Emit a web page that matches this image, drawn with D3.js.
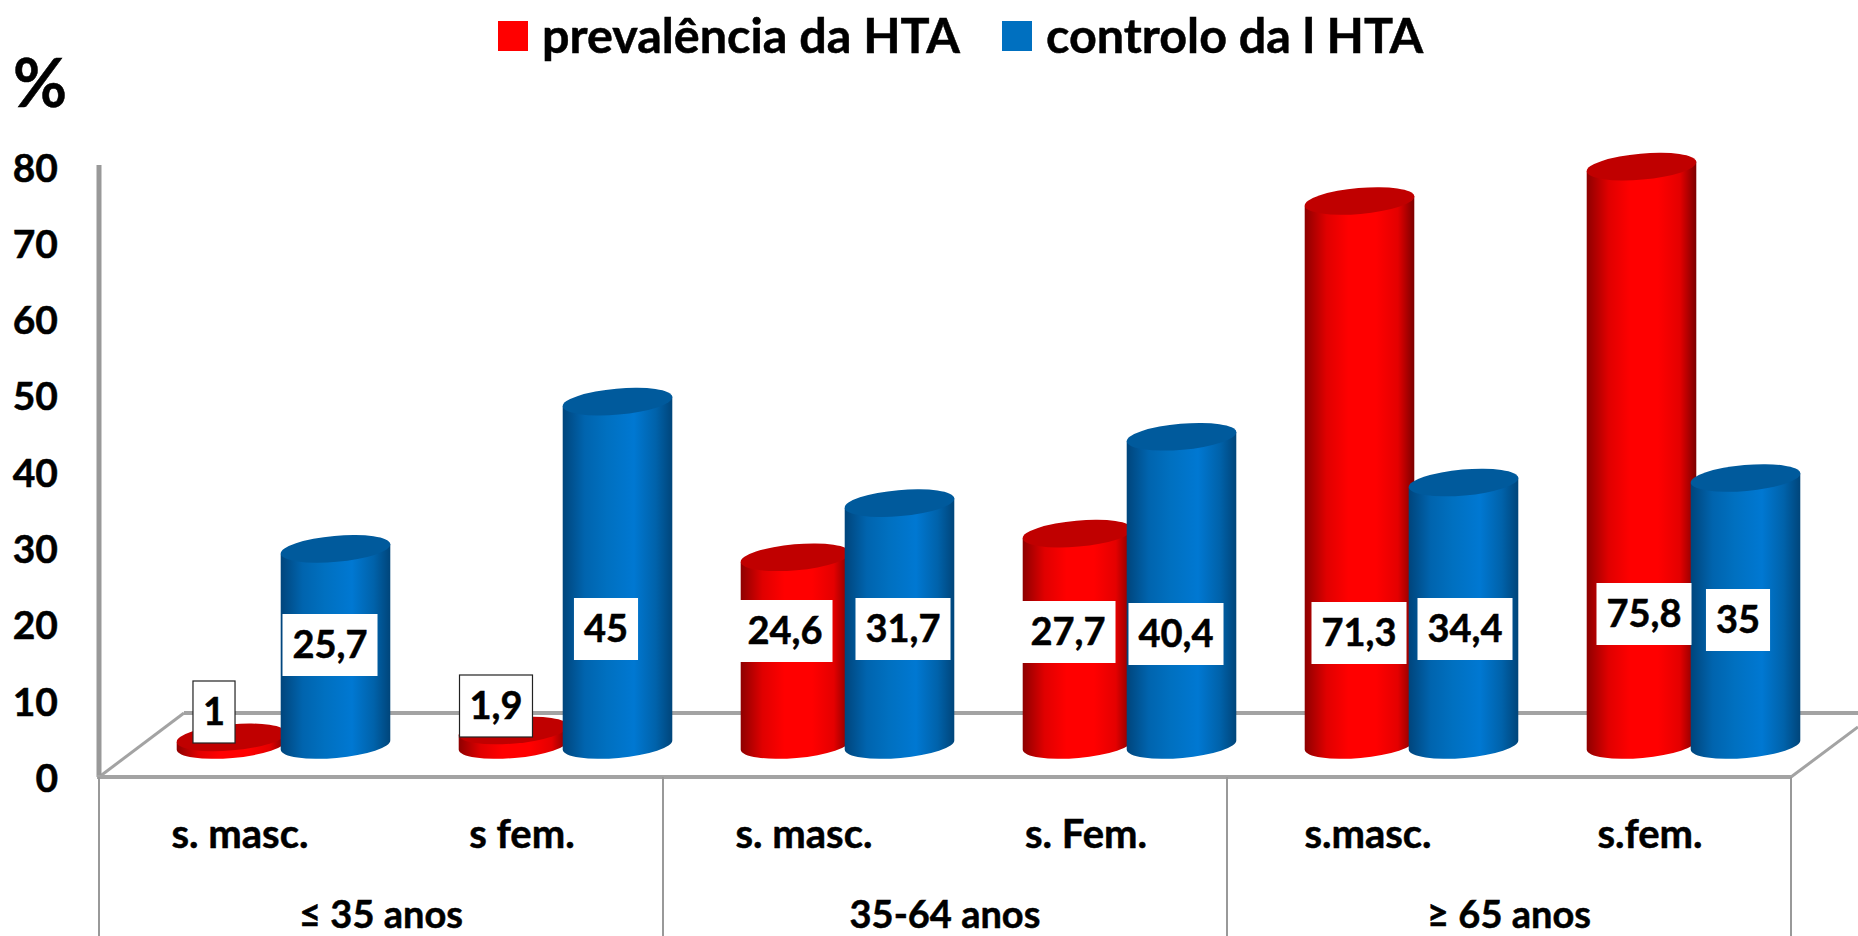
<!DOCTYPE html>
<html>
<head>
<meta charset="utf-8">
<script src="https://cdn.jsdelivr.net/npm/d3@7"></script>
<style>
html,body{margin:0;padding:0;background:#fff;overflow:hidden}
text{font-family:Lato,"Open Sans",sans-serif;font-weight:700;fill:#000;stroke:#000;stroke-width:0.5px}
</style>
</head>
<body>
<div id="chart"></div>
<script>
// chart values
var series = ["prevalência da HTA", "controlo da l HTA"];
var categories = ["s. masc.", "s fem.", "s. masc. ", "s. Fem.", "s.masc.", "s.fem."];
var groups = ["≤ 35 anos", "35-64 anos", "≥ 65 anos"];
var prevalencia = [1, 1.9, 24.6, 27.7, 71.3, 75.8];
var controlo = [25.7, 45, 31.7, 40.4, 34.4, 35];
var yTicks = [0, 10, 20, 30, 40, 50, 60, 70, 80];

// where the value boxes sit, they were moved by hand in the original
var labelCenters = {
  "prevalência da HTA": [[214, 712], [496, 706], [785, 631], [1068, 632], [1359, 633], [1644, 614]],
  "controlo da l HTA": [[330, 645], [606, 629], [903, 629], [1176, 634], [1465, 629], [1738, 620]]
};
var labelBoxH = 62;

var w = 1858, h = 936;
var left = 99, right = 1791;
var floorFront = 777, floorBack = 713;
var depth = 85;      // floor shift in x
var baseY = 745;     // centre of the cylinder bases
var perUnit = 7.63;
var rx = 55, ry = 13, tilt = -5;

var svg = d3.select("#chart").append("svg")
  .attr("width", w).attr("height", h)
  .style("display", "block");

var x0 = d3.scaleBand().domain(d3.range(categories.length)).range([left, right]);
var xGroup = d3.scaleBand().domain(groups).range([left, right]);
var x1 = d3.scaleBand().domain(series).range([-103, 105]);
var yAxisScale = d3.scaleLinear().domain([0, 80]).range([floorFront + 2, floorFront + 2 - 80 * perUnit]);
var yBar = d3.scaleLinear().domain([0, 80]).range([baseY, baseY - 80 * perUnit]);

var colors = {
  "prevalência da HTA": {cap: "#c00000", stops: ["#8e0000", "#e00000", "#ff0000", "#ff0000", "#e40000", "#7c0000"]},
  "controlo da l HTA": {cap: "#005a9c", stops: ["#00457c", "#0064ae", "#0070c0", "#0078d2", "#0062aa", "#00457a"]}
};

var defs = svg.append("defs");
series.forEach(function(s, i) {
  var g = defs.append("linearGradient").attr("id", "grad" + i);
  var offs = [0, 0.2, 0.4, 0.65, 0.85, 1];
  colors[s].stops.forEach(function(c, j) {
    g.append("stop").attr("offset", offs[j]).attr("stop-color", c);
  });
});

// walls and floor
var gray = "#a3a3a3";
function wall(x1_, y1_, x2_, y2_, sw, col) {
  svg.append("line").attr("x1", x1_).attr("y1", y1_).attr("x2", x2_).attr("y2", y2_)
    .attr("stroke", col || gray).attr("stroke-width", sw);
}
wall(left + depth, floorBack, w, floorBack, 4);
wall(left, floorFront, left + depth, floorBack, 3);
wall(right, floorFront, w, floorFront - 50, 3);
wall(left, 165, left, floorFront, 5, "#999");
wall(left - 2, floorFront, right, floorFront, 4);
[left, left + 2 * x0.step(), left + 4 * x0.step(), right].forEach(function(x) {
  wall(x, floorFront, x, h, 2, "#999");
});

// cylinders
var tiltRad = tilt * Math.PI / 180;
var dx = rx * Math.cos(tiltRad), dy = rx * Math.sin(tiltRad);
var rows = [];
categories.forEach(function(c, i) {
  rows.push({s: series[0], i: i, v: prevalencia[i]});
  rows.push({s: series[1], i: i, v: controlo[i]});
});
function barX(d) {
  return x0(d.i) + x0.bandwidth() / 2 + depth / 2 + x1(d.s) + x1.bandwidth() / 2;
}
var bars = svg.selectAll("g.bar").data(rows).enter().append("g").attr("class", "bar");
bars.append("path")
  .attr("d", function(d) {
    var cx = barX(d), top = yBar(d.v);
    return "M" + (cx - dx) + "," + (top - dy) +
      "L" + (cx - dx) + "," + (baseY - dy) +
      "A" + rx + "," + ry + " " + tilt + " 0 0 " + (cx + dx) + "," + (baseY + dy) +
      "L" + (cx + dx) + "," + (top + dy) + "Z";
  })
  .attr("fill", function(d) { return "url(#grad" + series.indexOf(d.s) + ")"; });
bars.append("ellipse")
  .attr("rx", rx).attr("ry", ry)
  .attr("transform", function(d) {
    return "translate(" + barX(d) + "," + yBar(d.v) + ") rotate(" + tilt + ")";
  })
  .attr("fill", function(d) { return colors[d.s].cap; });

// value boxes
var labels = svg.selectAll("g.lab").data(rows).enter().append("g").attr("class", "lab")
  .attr("transform", function(d) {
    var p = labelCenters[d.s][d.i];
    return "translate(" + p[0] + "," + p[1] + ")";
  });
labels.append("text")
  .attr("text-anchor", "middle").attr("dy", "0.35em")
  .style("font-size", "38px")
  .text(function(d) { return String(d.v).replace(".", ","); });
labels.insert("rect", "text")
  .each(function(d) {
    var t = d3.select(this.parentNode).select("text").node().getBBox();
    var bw = t.width + 20;
    d3.select(this)
      .attr("x", -bw / 2).attr("y", -labelBoxH / 2)
      .attr("width", bw).attr("height", labelBoxH)
      .attr("fill", "#fff")
      .attr("stroke", d.v < 2 ? "#222" : "none")
      .attr("stroke-width", 1.2);
  });

// y axis labels
var yAxis = svg.append("g").attr("transform", "translate(58,0)")
  .call(d3.axisLeft(yAxisScale).tickValues(yTicks).tickSize(0).tickPadding(0));
yAxis.select(".domain").remove();
yAxis.selectAll("text").style("font-size", "39px").attr("text-anchor", "end");
svg.append("text").attr("x", 40).attr("y", 84).attr("text-anchor", "middle").attr("dy", "0.35em")
  .style("font-size", "66px").text("%");

// category labels
svg.selectAll("text.cat").data(categories).enter().append("text").attr("class", "cat")
  .attr("x", function(d, i) { return x0(i) + x0.bandwidth() / 2; })
  .attr("y", 834).attr("dy", "0.35em").attr("text-anchor", "middle")
  .style("font-size", "40px")
  .text(function(d) { return d.trim(); });
svg.selectAll("text.grp").data(groups).enter().append("text").attr("class", "grp")
  .attr("x", function(d) { return xGroup(d) + xGroup.bandwidth() / 2; })
  .attr("y", 915).attr("dy", "0.35em").attr("text-anchor", "middle")
  .style("font-size", "38px")
  .text(function(d) { return d; });

// legend
var legendX = [498, 1002];
series.forEach(function(s, i) {
  svg.append("rect").attr("x", legendX[i]).attr("y", 21).attr("width", 30).attr("height", 30)
    .attr("fill", i == 0 ? "#ff0000" : "#0070c0");
  svg.append("text").attr("x", legendX[i] + 44).attr("y", 36).attr("dy", "0.35em")
    .style("font-size", "48.5px").text(s);
});
</script>
</body>
</html>
